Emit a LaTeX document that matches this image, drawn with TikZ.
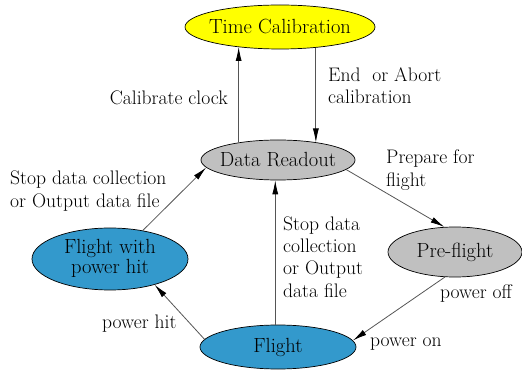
\documentclass[tikz,border=0pt]{standalone}
\usetikzlibrary{shapes.geometric,arrows.meta}
\definecolor{tcyellow}{HTML}{FFFF00}
\definecolor{stgray}{HTML}{C0C0C0}
\definecolor{stblue}{HTML}{3399CC}
\definecolor{edgegray}{HTML}{555555}
\begin{document}
\begin{tikzpicture}[x=1pt,y=-1pt,
  state/.style={ellipse,draw=black,line width=0.7pt,inner sep=0pt,
    font=\fontsize{20.5}{22}\selectfont,align=center},
  lbl/.style={inner sep=0pt,font=\fontsize{19.6}{22.3}\selectfont,align=left},
  conn/.style={draw=edgegray,line width=0.8pt,-{Latex[length=14pt,width=6pt,color=black]}}]
\useasboundingbox (0,0) rectangle (522,371);
\node[state,fill=tcyellow,minimum width=190,minimum height=44] (tc) at (280,27) {\makebox[0pt]{Time Calibration}};
\node[state,fill=stgray,minimum width=154,minimum height=40] (dr) at (278,160) {\makebox[0pt]{Data Readout}};
\node[state,fill=stblue,minimum width=156,minimum height=62] (fph) at (110,259) {\makebox[0pt]{\begin{tabular}{@{}c@{}}Flight with\\[-2pt]power hit\end{tabular}}};
\node[state,fill=stgray,minimum width=134,minimum height=50] (pf) at (455,252) {\makebox[0pt]{Pre-flight}};
\node[state,fill=stblue,minimum width=156,minimum height=44] (fl) at (278,347) {\makebox[0pt]{Flight}};
% connectors
\draw[conn] (dr.156.9) -- (dr.156.9 |- tc.205.1);
\draw[conn] (tc.330.5) -- (tc.330.5 |- dr.24.6);
\draw[conn] (fl.97.8) -- (fl.97.8 |- dr.261.5);
\draw[conn] (dr.352) -- (pf.113.5);
\draw[conn] (pf.248) -- (fl.5.3);
\draw[conn] (fl.174.7) -- (fph.330.8);
\draw[conn] (fph.41.3) -- (dr.186.5);
% labels
\node[lbl,anchor=east] (l1) at (228,98) {Calibrate clock};
\node[lbl,anchor=west] (l2) at (328,86) {End\ \ or Abort\\calibration};
\node[lbl,anchor=west] (l3) at (386,170) {Prepare for\\flight};
\node[lbl,anchor=west] (l4) at (283,257) {Stop data\\collection\\or Output\\data file};
\node[lbl,anchor=west] (l5) at (10,191) {Stop data collection\\or Output data file};
\node[lbl,anchor=west] (l6) at (102,324) {power hit};
\node[lbl,anchor=west] (l7) at (440,294) {power off};
\node[lbl,anchor=west] (l8) at (370,344) {power on};
\end{tikzpicture}
\end{document}
